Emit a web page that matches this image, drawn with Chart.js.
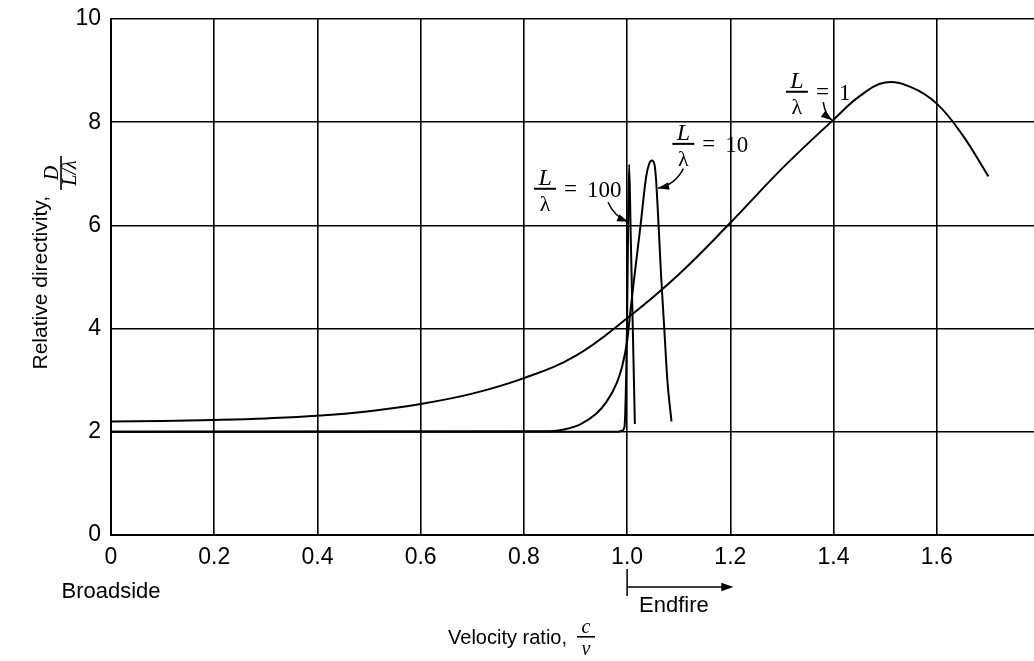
<!DOCTYPE html>
<html>
<head>
<meta charset="utf-8">
<title>Relative directivity vs velocity ratio</title>
<script src="https://cdn.jsdelivr.net/npm/chart.js@4.4.0/dist/chart.umd.min.js"></script>
<style>
  html, body { margin: 0; padding: 0; background: #fff; overflow: hidden; }
  #chart-box { width: 1049px; height: 661px; }
</style>
</head>
<body>
<div id="chart-box"><canvas id="myChart" width="1049" height="661"></canvas></div>
<script>
'use strict';

//--------------------DATA
// L/lambda = 1
let ratioL1 = [0, 0.1, 0.2, 0.3, 0.4, 0.5, 0.6, 0.7, 0.8, 0.9, 1.0, 1.1, 1.2, 1.3, 1.4, 1.45, 1.5, 1.55, 1.6, 1.65, 1.7];
let directivityL1 = [2.2, 2.21, 2.23, 2.26, 2.31, 2.4, 2.54, 2.74, 3.04, 3.47, 4.2, 5.05, 6.05, 7.1, 8.05, 8.5, 8.77, 8.68, 8.36, 7.75, 6.95];

// L/lambda = 10
let ratioL10 = [0, 0.85, 0.88, 0.91, 0.94, 0.96, 0.98, 0.99, 1.0, 1.006, 1.014, 1.026, 1.037, 1.043, 1.048, 1.053, 1.056, 1.061, 1.066, 1.072, 1.078, 1.086];
let directivityL10 = [2.0, 2.01, 2.05, 2.15, 2.35, 2.58, 2.95, 3.25, 3.75, 4.3, 5.0, 6.0, 6.95, 7.2, 7.26, 7.18, 6.9, 6.0, 5.0, 4.0, 3.0, 2.2];

// L/lambda = 100
let ratioL100 = [0, 0.98, 0.99, 0.995, 0.998, 1.0, 1.002, 1.004, 1.007, 1.01, 1.013, 1.015];
let directivityL100 = [2.0, 2.0, 2.02, 2.1, 3.0, 4.2, 6.0, 7.18, 5.8, 4.45, 3.1, 2.15];

let xTickValues = [0, 0.2, 0.4, 0.6, 0.8, 1.0, 1.2, 1.4, 1.6, 1.8];
let xTickLabels = ['0', '0.2', '0.4', '0.6', '0.8', '1.0', '1.2', '1.4', '1.6', ''];
let yTickValues = [0, 2, 4, 6, 8, 10];
let yTickLabels = ['0', '2', '4', '6', '8', '10'];

// curve labels: L/lambda value, label spot and arrow tip (data coords)
let curveLabels = [
  { value: '100', labelX: 0.841, labelY: 6.71, tailX: 0.963, tailY: 6.45, tipX: 1.002, tipY: 6.07, bend: [6, 14] },
  { value: '10', labelX: 1.109, labelY: 7.58, tailX: 1.109, tailY: 7.1, tipX: 1.06, tipY: 6.72, bend: [-8, 16] },
  { value: '1', labelX: 1.329, labelY: 8.59, tailX: 1.38, tailY: 8.39, tipX: 1.397, tipY: 8.04, bend: [2, 13] },
];

//--------------------HELPERS
function toPoints(xs, ys) {
  let pts = [];
  for (let i = 0; i < xs.length; i++) {
    pts.push({ x: xs[i], y: ys[i] });
  }
  return pts;
}

function arrowHead(ctx, x, y, angle, size) {
  ctx.save();
  ctx.translate(x, y);
  ctx.rotate(angle);
  ctx.beginPath();
  ctx.moveTo(0, 0);
  ctx.lineTo(-size, -size * 0.35);
  ctx.lineTo(-size, size * 0.35);
  ctx.closePath();
  ctx.fill();
  ctx.restore();
}

function fracLabel(ctx, cx, barY, num) {
  ctx.textAlign = 'center';
  ctx.textBaseline = 'alphabetic';
  ctx.font = 'italic 24px "Liberation Serif"';
  ctx.fillText('L', cx, barY - 4);
  ctx.fillRect(cx - 11, barY - 1, 22, 2);
  ctx.font = '22px "Liberation Serif"';
  ctx.fillText('\u03bb', cx, barY + 22);
  ctx.textAlign = 'left';
  ctx.font = '23px "Liberation Serif"';
  ctx.fillText('=', cx + 19, barY + 7);
  ctx.fillText(num, cx + 42, barY + 8);
}

//--------------------EXTRA DRAWING (labels, arrows, titles)
let extrasPlugin = {
  id: 'extras',
  afterDraw(chart) {
    let ctx = chart.ctx;
    let xs = chart.scales.x;
    let ys = chart.scales.y;
    let area = chart.chartArea;
    ctx.save();
    ctx.fillStyle = '#000';
    ctx.strokeStyle = '#000';

    for (let i = 0; i < curveLabels.length; i++) {
      let c = curveLabels[i];
      fracLabel(ctx, xs.getPixelForValue(c.labelX), ys.getPixelForValue(c.labelY), c.value);
      let tx = xs.getPixelForValue(c.tailX);
      let ty = ys.getPixelForValue(c.tailY);
      let hx = xs.getPixelForValue(c.tipX);
      let hy = ys.getPixelForValue(c.tipY);
      let qx = tx + c.bend[0];
      let qy = ty + c.bend[1];
      ctx.lineWidth = 1.5;
      ctx.beginPath();
      ctx.moveTo(tx, ty);
      ctx.quadraticCurveTo(qx, qy, hx, hy);
      ctx.stroke();
      arrowHead(ctx, hx, hy, Math.atan2(hy - qy, hx - qx), 11);
    }

    // y axis title
    ctx.save();
    ctx.translate(41, 196);
    ctx.rotate(-Math.PI / 2);
    ctx.font = '21px "Liberation Sans"';
    ctx.textAlign = 'right';
    ctx.textBaseline = 'middle';
    ctx.fillText('Relative directivity,', 0, 0);
    ctx.restore();
    ctx.save();
    ctx.translate(61, 173);
    ctx.rotate(-Math.PI / 2);
    ctx.textAlign = 'center';
    ctx.textBaseline = 'alphabetic';
    ctx.font = 'italic 20px "Liberation Serif"';
    ctx.fillText('D', 0, -3);
    ctx.fillRect(-17, -0.8, 34, 1.6);
    ctx.fillText('L/\u03bb', 0, 15);
    ctx.restore();

    // broadside / endfire
    ctx.font = '22px "Liberation Sans"';
    ctx.textBaseline = 'middle';
    ctx.textAlign = 'center';
    ctx.fillText('Broadside', xs.getPixelForValue(0), area.bottom + 57);
    let e0 = xs.getPixelForValue(1.0);
    let e1 = xs.getPixelForValue(1.2);
    ctx.lineWidth = 1.5;
    ctx.beginPath();
    ctx.moveTo(e0, area.bottom + 34);
    ctx.lineTo(e0, area.bottom + 61);
    ctx.moveTo(e0, area.bottom + 52);
    ctx.lineTo(e1, area.bottom + 52);
    ctx.stroke();
    arrowHead(ctx, e1 + 3, area.bottom + 52, 0, 12);
    ctx.textAlign = 'left';
    ctx.fillText('Endfire', e0 + 12, area.bottom + 71);

    // x axis title
    ctx.textAlign = 'right';
    ctx.font = '20px "Liberation Sans"';
    ctx.fillText('Velocity ratio,', 567, 638);
    ctx.textAlign = 'center';
    ctx.textBaseline = 'alphabetic';
    ctx.font = 'italic 20px "Liberation Serif"';
    ctx.fillText('c', 586, 633);
    ctx.fillRect(577, 636, 18, 1.6);
    ctx.fillText('v', 586, 655);

    ctx.restore();
  }
};

//--------------------CHART
let canvasElem = document.getElementById('myChart');

function lineSet(label, xs, ys, smooth) {
  let set = {
    label: label,
    data: toPoints(xs, ys),
    showLine: true,
    borderColor: '#000',
    borderWidth: 2,
    pointRadius: 0,
    fill: false,
  };
  if (smooth) {
    set.tension = 0.4;
  } else {
    set.cubicInterpolationMode = 'monotone';
  }
  return set;
}

let myObj = {
  type: 'scatter',
  data: {
    datasets: [
      lineSet('L/\u03bb = 1', ratioL1, directivityL1, true),
      lineSet('L/\u03bb = 10', ratioL10, directivityL10, false),
      lineSet('L/\u03bb = 100', ratioL100, directivityL100, false),
    ],
  },
  options: {
    responsive: false,
    animation: false,
    layout: { padding: { top: 19, left: 0, right: 0, bottom: 0 } },
    plugins: {
      legend: { display: false },
      tooltip: { enabled: false },
    },
    scales: {
      x: {
        type: 'linear',
        min: 0,
        max: 1.8,
        afterBuildTicks: (scale) => {
          scale.ticks = xTickValues.map((v) => ({ value: v }));
        },
        afterFit: (scale) => { scale.height = 126; },
        ticks: {
          color: '#000',
          padding: 9,
          maxRotation: 0,
          autoSkip: false,
          font: { family: 'Liberation Sans', size: 23 },
          callback: (value, index) => xTickLabels[index],
        },
        grid: { color: '#000', lineWidth: 1.6, drawTicks: false },
        border: { color: '#000', width: 2 },
      },
      y: {
        min: 0,
        max: 10,
        afterBuildTicks: (scale) => {
          scale.ticks = yTickValues.map((v) => ({ value: v }));
        },
        afterFit: (scale) => {
          scale.width = 111;
          scale.paddingTop = 0;
          scale.paddingBottom = 0;
        },
        ticks: {
          color: '#000',
          padding: 10,
          font: { family: 'Liberation Sans', size: 23 },
          callback: (value, index) => yTickLabels[index],
        },
        grid: { color: '#000', lineWidth: 1.6, drawTicks: false },
        border: { color: '#000', width: 2 },
      },
    },
  },
  plugins: [extrasPlugin],
};

new Chart(canvasElem, myObj);
</script>
</body>
</html>
